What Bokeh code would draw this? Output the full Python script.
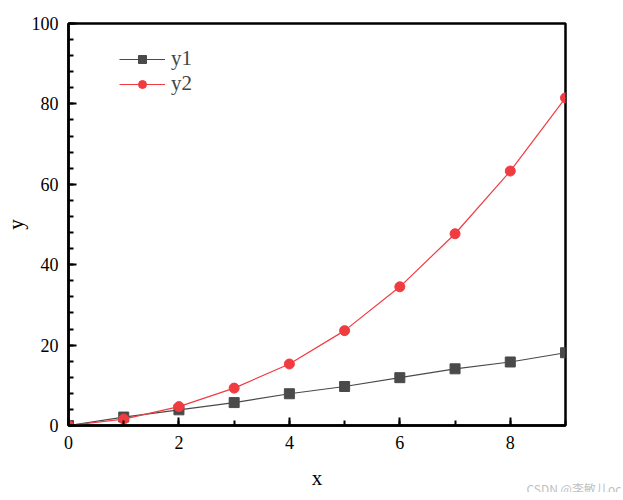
from bokeh.plotting import figure
from bokeh.models import Range1d, Legend, LegendItem, Label, SingleIntervalTicker
from bokeh.embed import file_html
from bokeh.resources import INLINE

x = [0, 1, 2, 3, 4, 5, 6, 7, 8, 9]
y1 = [0, 2.1, 3.9, 5.7, 7.9, 9.7, 11.9, 14.1, 15.8, 18.1]
y2 = [0, 1.6, 4.7, 9.3, 15.3, 23.6, 34.5, 47.7, 63.3, 81.5]
x_label = "x"
y_label = "y"
watermark = "CSDN @李敏儿oc"

GRAY = "#4a4a4a"
RED = "#f03c41"
SERIF = "Liberation Serif"

p = figure(width=623, height=492, output_backend="svg", toolbar_location=None,
           x_range=Range1d(0, 9), y_range=Range1d(0, 100),
           min_border_left=67, min_border_right=58, min_border_top=23, min_border_bottom=67)

p.xgrid.visible = False
p.ygrid.visible = False
p.outline_line_color = "black"
p.outline_line_width = 2.5
p.outline_line_alpha = 1

p.xaxis.ticker = SingleIntervalTicker(interval=2, num_minor_ticks=2)
p.yaxis.ticker = SingleIntervalTicker(interval=20, num_minor_ticks=5)

for ax in (p.xaxis[0], p.yaxis[0]):
    ax.axis_line_width = 2.5
    ax.axis_line_color = "black"
    ax.major_tick_in = 8
    ax.major_tick_out = 0
    ax.minor_tick_in = 5
    ax.minor_tick_out = 0
    ax.major_tick_line_width = 2
    ax.minor_tick_line_width = 2
    ax.major_tick_line_color = "black"
    ax.minor_tick_line_color = "black"
    ax.major_label_text_font = SERIF
    ax.major_label_text_font_size = "18px"
    ax.major_label_text_color = "black"
    ax.axis_label_text_font = SERIF
    ax.axis_label_text_font_size = "21px"
    ax.axis_label_text_font_style = "normal"
    ax.axis_label_text_color = "black"

p.xaxis.axis_label = x_label
p.yaxis.axis_label = y_label
p.xaxis.major_label_standoff = 10
p.yaxis.major_label_standoff = 10
p.xaxis.axis_label_standoff = 14
p.yaxis.axis_label_standoff = 1

l1 = p.line(x, y1, line_color=GRAY, line_width=1.2)
s1 = p.scatter(x, y1, marker="square", size=10, fill_color=GRAY, line_color=GRAY)
l2 = p.line(x, y2, line_color=RED, line_width=1.2)
s2 = p.scatter(x, y2, marker="circle", size=10, fill_color=RED, line_color=RED)

legend = Legend(items=[LegendItem(label="y1", renderers=[l1, s1]),
                       LegendItem(label="y2", renderers=[l2, s2])],
                location=(51, 329), border_line_color=None, background_fill_alpha=0,
                label_text_font=SERIF, label_text_font_size="21px",
                glyph_width=46, glyph_height=20, spacing=0, padding=4,
                label_standoff=6, margin=0)
p.add_layout(legend)

wm = Label(x=458, y=-465, x_units="screen", y_units="screen", text=watermark,
           text_font="Noto Sans CJK SC", text_font_size="12px", text_color="#c0c0c0",
           text_baseline="middle", text_align="left")
p.add_layout(wm, "above")

open("out.html", "w").write(file_html(p, INLINE))
